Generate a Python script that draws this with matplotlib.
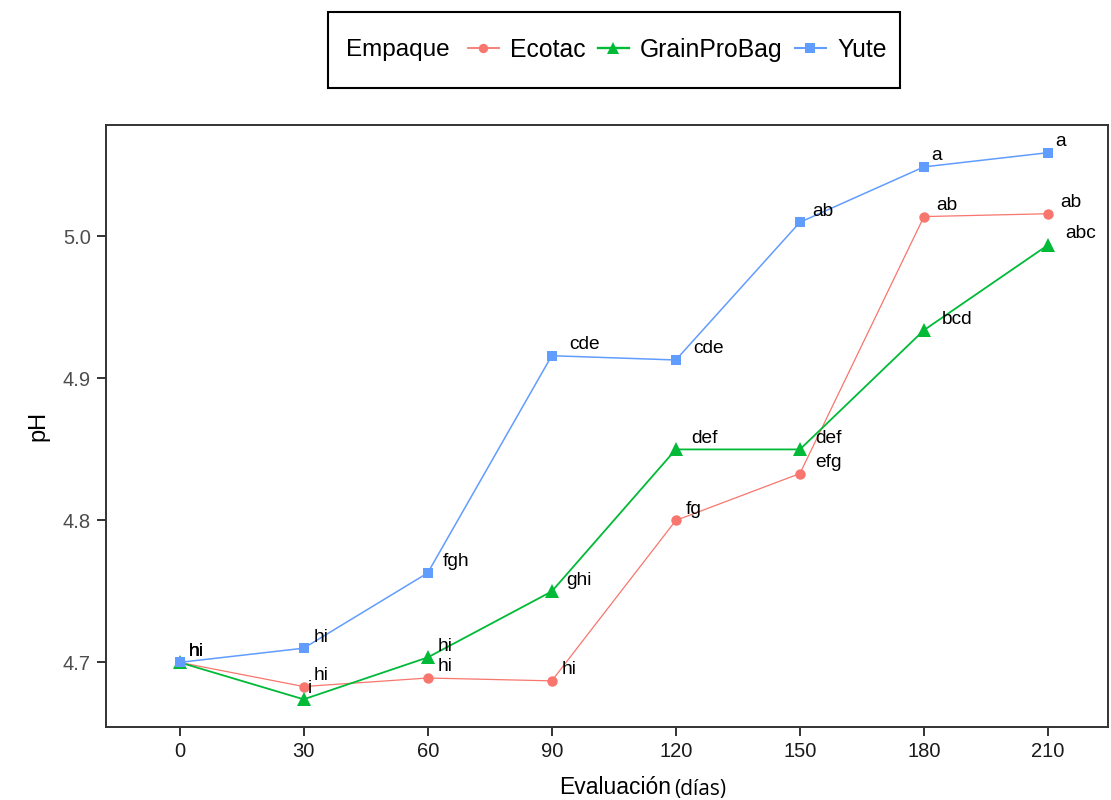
import matplotlib
matplotlib.use("Agg")
import matplotlib.pyplot as plt
from matplotlib.lines import Line2D
from matplotlib.patches import Rectangle

plt.rcParams['font.family'] = ['Liberation Sans', 'DejaVu Sans']

# ---- data ----
dias = [0, 30, 60, 90, 120, 150, 180, 210]
series_names = ["Ecotac", "GrainProBag", "Yute"]
ph_ecotac = [4.700, 4.683, 4.689, 4.687, 4.800, 4.833, 5.014, 5.016]
ph_grainpro = [4.700, 4.674, 4.7035, 4.750, 4.850, 4.850, 4.934, 4.994]
ph_yute = [4.700, 4.710, 4.763, 4.916, 4.913, 5.010, 5.049, 5.059]
lab_ecotac = ["hi", "hi", "hi", "hi", "fg", "efg", "ab", "ab"]
lab_grainpro = ["hi", "i", "hi", "ghi", "def", "def", "bcd", "abc"]
lab_yute = ["hi", "hi", "fgh", "cde", "cde", "ab", "a", "a"]
yticks = [4.7, 4.8, 4.9, 5.0]
ytick_labels = ["4.7", "4.8", "4.9", "5.0"]

colors = ["#F8766D", "#00BA38", "#619CFF"]
markers = ["o", "^", "s"]
msizes = [7.5, 9.5, 7.5]
lws = [0.9, 1.3, 1.1]
values = [ph_ecotac, ph_grainpro, ph_yute]
labels = [lab_ecotac, lab_grainpro, lab_yute]

DPI = 100
fig = plt.figure(figsize=(11.11, 8.0), dpi=DPI)
ax = fig.add_axes([0.095, 0.09125, 0.9023, 0.7525])

# lines first, then points (ggplot layering)
for v, c, lw in zip(values, colors, lws):
    ax.plot(dias, v, color=c, lw=lw, zorder=2)
for v, c, m, ms in zip(values, colors, markers, msizes):
    ax.plot(dias, v, linestyle='none', marker=m, markersize=ms,
            color=c, markeredgewidth=0, zorder=3)

anns = []
for v, labs in zip(values, labels):
    for x, y, t in zip(dias, v, labs):
        a = ax.annotate(t, xy=(x, y), xytext=(1.5, 8), textcoords='offset points',
                        ha='left', va='center', fontsize=13.8, color='black', zorder=4)
        anns.append(a)

ax.set_xlim(-17.9, 224.5)
ax.set_ylim(4.6545, 5.0785)
ax.set_xticks(dias)
ax.set_xticklabels([str(d) for d in dias])
ax.set_yticks(yticks)
ax.set_yticklabels(ytick_labels)

for s in ax.spines.values():
    s.set_color('#333333')
    s.set_linewidth(1.4)
ax.tick_params(axis='both', length=6.5, width=1.4, color='#333333', pad=4)
ax.tick_params(axis='x', labelsize=14.5, labelcolor='#1a1a1a')
ax.tick_params(axis='y', labelsize=14.5, labelcolor='#4D4D4D')

ax.set_ylabel("pH", fontsize=17, labelpad=10)

# x axis title with smaller unit part
fig.text(559 / 1111, 1 - 788 / 800, "Evaluación", fontsize=16.5, ha='left', va='center')
fig.text(674 / 1111, 1 - 789 / 800, "(días)", fontsize=15, ha='left', va='center',
         family=['Open Sans', 'DejaVu Sans'])

# legend (title to the left, inside a box)
fig.patches.append(Rectangle((328 / 1111, 1 - 88 / 800), (900 - 328) / 1111, 76 / 800,
                             transform=fig.transFigure, fill=False,
                             edgecolor='black', linewidth=1.5))
fig.text(346 / 1111, 1 - 50 / 800, "Empaque", fontsize=17.5, ha='left', va='center')
handles = [Line2D([0], [0], color=c, lw=lw + 0.4, marker=m, markersize=ms * 0.9,
                  markeredgewidth=0)
           for c, m, ms, lw in zip(colors, markers, msizes, lws)]
fig.legend(handles, series_names, loc='center left',
           bbox_to_anchor=(468 / 1111, 1 - 50 / 800), ncol=3, frameon=False,
           fontsize=17.8, handlelength=1.25, handletextpad=0.45, columnspacing=0.5,
           borderpad=0, borderaxespad=0)

# emulate ggplot hjust=-0.5 for point labels
fig.canvas.draw()
r = fig.canvas.get_renderer()
for a in anns:
    w = a.get_window_extent(r).width
    a.xyann = (1.5 + 0.5 * w * 72 / DPI, 8)

fig.savefig("out.png", dpi=DPI)
